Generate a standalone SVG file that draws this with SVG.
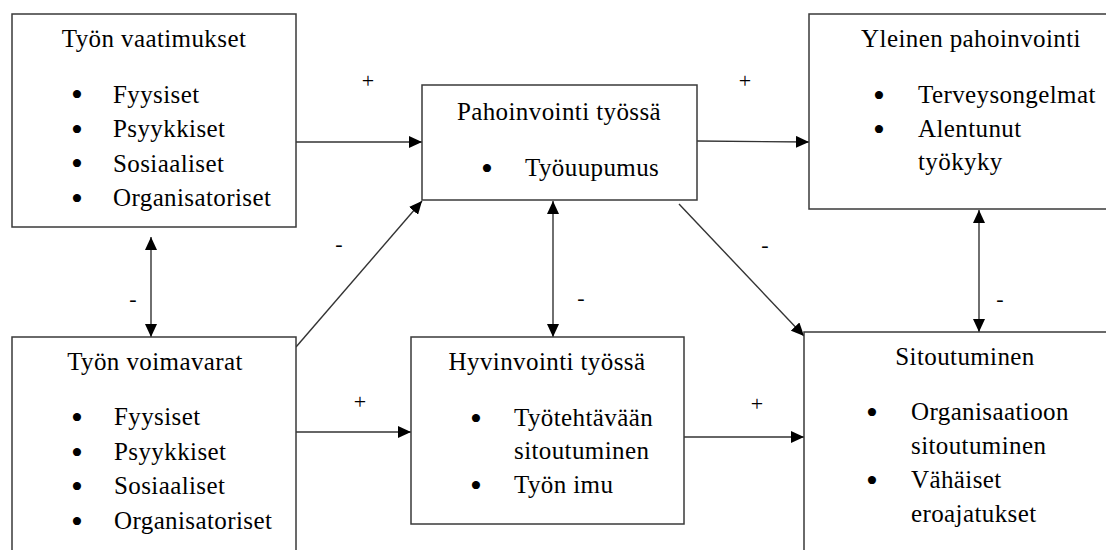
<svg xmlns="http://www.w3.org/2000/svg" width="1106" height="550" viewBox="0 0 1106 550">
<style>
.box{fill:#fff;stroke:#3a3a3a;stroke-width:1.5}
.t{font-family:"Liberation Serif","Times New Roman",serif;font-size:25px;letter-spacing:0.4px;fill:#000}
.c{text-anchor:middle}
.b{font-family:"Liberation Serif","Times New Roman",serif;font-size:34px;fill:#000;text-anchor:middle}
.s{font-family:"Liberation Serif","Times New Roman",serif;font-size:22px;fill:#000;text-anchor:middle}
.ln{stroke:#333;stroke-width:1.4;fill:none}
</style>
<defs>
<marker id="ah" viewBox="0 0 13 12" refX="13" refY="6" markerWidth="13" markerHeight="12" markerUnits="userSpaceOnUse" orient="auto-start-reverse">
<path d="M0,0 L13,6 L0,12 z" fill="#000"/>
</marker>
</defs>
<g id="connectors">
<line class="ln" x1="296" y1="142" x2="422" y2="142" marker-end="url(#ah)"/>
<line class="ln" x1="697" y1="141" x2="809" y2="142" marker-end="url(#ah)"/>
<line class="ln" x1="151" y1="237" x2="151" y2="337" marker-start="url(#ah)" marker-end="url(#ah)"/>
<line class="ln" x1="296" y1="347" x2="422" y2="201" marker-end="url(#ah)"/>
<line class="ln" x1="553" y1="201" x2="553" y2="337" marker-start="url(#ah)" marker-end="url(#ah)"/>
<line class="ln" x1="679" y1="204" x2="804" y2="336" marker-end="url(#ah)"/>
<line class="ln" x1="979" y1="210" x2="979" y2="332" marker-start="url(#ah)" marker-end="url(#ah)"/>
<line class="ln" x1="296" y1="432" x2="411" y2="432" marker-end="url(#ah)"/>
<line class="ln" x1="684" y1="437" x2="804" y2="437" marker-end="url(#ah)"/>
<text class="s" x="368" y="88">+</text>
<text class="s" x="745" y="88">+</text>
<text class="s" x="133" y="306">-</text>
<text class="s" x="339" y="251">-</text>
<text class="s" x="581" y="305">-</text>
<text class="s" x="765" y="252">-</text>
<text class="s" x="1000" y="306">-</text>
<text class="s" x="360" y="409">+</text>
<text class="s" x="757" y="411">+</text>
</g>
<g id="tyon-vaatimukset">
<rect class="box" x="12" y="14" width="284" height="213"/>
<text class="t c" x="154" y="47">Työn vaatimukset</text>
<text class="b" x="77" y="106">•</text><text class="t" x="113" y="102.5">Fyysiset</text>
<text class="b" x="77" y="140.5">•</text><text class="t" x="113" y="137">Psyykkiset</text>
<text class="b" x="77" y="175">•</text><text class="t" x="113" y="171.5">Sosiaaliset</text>
<text class="b" x="77" y="209.5">•</text><text class="t" x="113" y="206">Organisatoriset</text>
</g>
<g id="pahoinvointi-tyossa">
<rect class="box" x="422" y="85" width="275" height="115"/>
<text class="t c" x="559" y="120">Pahoinvointi työssä</text>
<text class="b" x="487" y="179.5">•</text><text class="t" x="525" y="176">Työuupumus</text>
</g>
<g id="yleinen-pahoinvointi">
<rect class="box" x="809" y="14" width="320" height="195"/>
<text class="t c" x="971" y="47">Yleinen pahoinvointi</text>
<text class="b" x="879" y="106.5">•</text><text class="t" x="918" y="103">Terveysongelmat</text>
<text class="b" x="879" y="140.5">•</text><text class="t" x="918" y="137">Alentunut</text>
<text class="t" x="918" y="170">työkyky</text>
</g>
<g id="tyon-voimavarat">
<rect class="box" x="12" y="337" width="284" height="240"/>
<text class="t c" x="155" y="370">Työn voimavarat</text>
<text class="b" x="77" y="428.5">•</text><text class="t" x="114" y="425">Fyysiset</text>
<text class="b" x="77" y="463.5">•</text><text class="t" x="114" y="460">Psyykkiset</text>
<text class="b" x="77" y="497.5">•</text><text class="t" x="114" y="494">Sosiaaliset</text>
<text class="b" x="77" y="532.5">•</text><text class="t" x="114" y="529">Organisatoriset</text>
</g>
<g id="hyvinvointi-tyossa">
<rect class="box" x="411" y="337" width="273" height="187"/>
<text class="t c" x="547" y="370">Hyvinvointi työssä</text>
<text class="b" x="476" y="429.5">•</text><text class="t" x="514" y="426">Työtehtävään</text>
<text class="t" x="514" y="459">sitoutuminen</text>
<text class="b" x="476" y="496.5">•</text><text class="t" x="514" y="493">Työn imu</text>
</g>
<g id="sitoutuminen">
<rect class="box" x="804" y="332" width="320" height="240"/>
<text class="t c" x="965" y="365">Sitoutuminen</text>
<text class="b" x="872" y="423.5">•</text><text class="t" x="911" y="420">Organisaatioon</text>
<text class="t" x="911" y="454">sitoutuminen</text>
<text class="b" x="872" y="491.5">•</text><text class="t" x="911" y="488">Vähäiset</text>
<text class="t" x="911" y="522">eroajatukset</text>
</g>
</svg>
